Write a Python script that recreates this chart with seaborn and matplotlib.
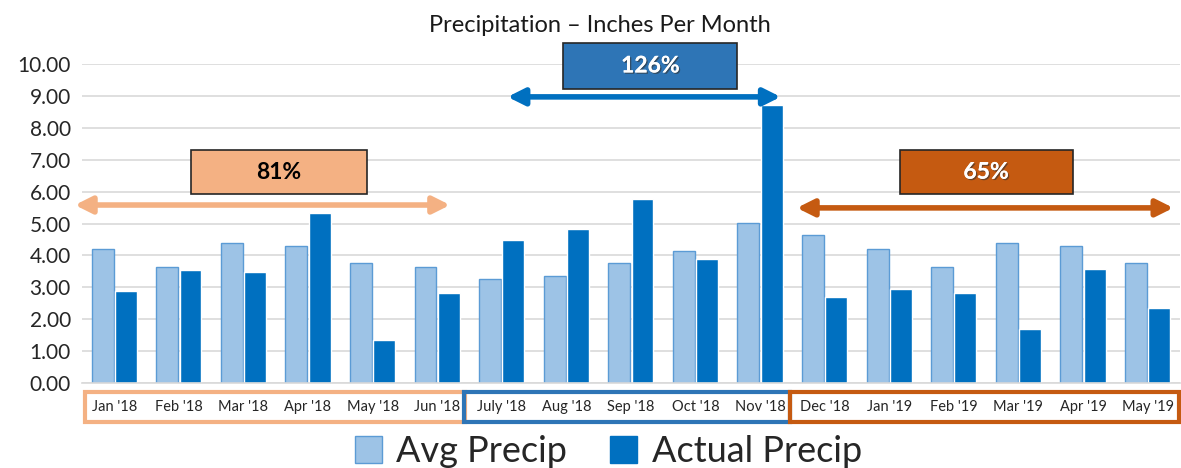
import pandas as pd
import numpy as np
import matplotlib.pyplot as plt
import seaborn as sns
from matplotlib.patches import Rectangle, FancyArrowPatch, Patch
import matplotlib.patheffects as pe

months = ["Jan '18", "Feb '18", "Mar '18", "Apr '18", "May '18", "Jun '18",
          "July '18", "Aug '18", "Sep '18", "Oct '18", "Nov '18",
          "Dec '18", "Jan '19", "Feb '19", "Mar '19", "Apr '19", "May '19"]
avg_precip = [4.19, 3.65, 4.40, 4.29, 3.75, 3.65, 3.25, 3.35, 3.75, 4.15, 5.02,
              4.65, 4.19, 3.65, 4.40, 4.29, 3.75]
actual_precip = [2.87, 3.55, 3.47, 5.33, 1.35, 2.83, 4.48, 4.82, 5.78, 3.88, 8.70,
                 2.71, 2.94, 2.83, 1.68, 3.58, 2.35]
series = ["Avg Precip", "Actual Precip"]

df = pd.DataFrame({
    'month': months * 2,
    'series': [series[0]] * len(months) + [series[1]] * len(months),
    'value': avg_precip + actual_precip,
})

sns.set_style('white')
plt.rcParams['font.family'] = ['Lato', 'DejaVu Sans']

fig = plt.figure(figsize=(11.81, 4.68), dpi=100)
ax = fig.add_axes([0.0694, 0.1816, 0.9296, 0.6816])

palette = {series[0]: '#9DC3E6', series[1]: '#0070C0'}
sns.barplot(data=df, x='month', y='value', hue='series', order=months,
            hue_order=series, palette=palette, width=0.72, gap=0.06,
            saturation=1, ax=ax, legend=False)
for bar in ax.patches[:len(months)]:
    bar.set_edgecolor('#5B9BD5')
    bar.set_linewidth(1.0)

ax.set_ylim(0, 10)
ax.set_xlim(-0.5, len(months) - 0.5)
ax.set_yticks(np.arange(0, 11, 1))
ax.set_yticklabels([f'{v:.2f}' for v in np.arange(0, 11, 1)], fontsize=15, color='#262626')
ax.set_xticks(range(len(months)))
ax.set_xticklabels(months, fontsize=10.5, color='#262626')
ax.tick_params(axis='both', length=0)
ax.tick_params(axis='x', pad=12)
ax.tick_params(axis='y', pad=8)
ax.set_xlabel('')
ax.set_ylabel('')
ax.grid(axis='y', color='#D9D9D9', linewidth=1.2)
ax.set_axisbelow(True)
for s in ['top', 'right', 'left']:
    ax.spines[s].set_visible(False)
ax.spines['bottom'].set_color('#D9D9D9')
ax.spines['bottom'].set_linewidth(1.2)

fig.text(0.508, 0.945, 'Precipitation \u2013 Inches Per Month', ha='center', va='center',
         fontsize=17, color='#1a1a1a')

# period boxes around the month labels
periods = [(-0.45, 5.43, '#F4B183'), (5.42, 10.46, '#2E75B6'), (10.46, 16.49, '#C55A11')]
for x0, x1, c in periods:
    ax.add_patch(Rectangle((x0, -1.22), x1 - x0, 0.94, fill=False, edgecolor=c,
                           linewidth=3, clip_on=False, zorder=5))

# callout boxes and arrows
callouts = [
    ('81%', 1.19, 3.91, 5.92, 7.30, '#F4B183', 'black', -0.61, 5.2, 5.58, '#F4B183'),
    ('126%', 6.95, 9.65, 9.22, 10.66, '#2E75B6', 'white', 6.09, 10.32, 8.97, '#0070C0'),
    ('65%', 12.16, 14.84, 5.92, 7.30, '#C55A11', 'white', 10.57, 16.40, 5.49, '#C55A11'),
]
for label, bx0, bx1, by0, by1, fc, tc, ax0, ax1, ay, acol in callouts:
    ax.add_patch(Rectangle((bx0, by0), bx1 - bx0, by1 - by0, facecolor=fc,
                           edgecolor='#262626', linewidth=1.2, clip_on=False, zorder=6))
    t = ax.text((bx0 + bx1) / 2, (by0 + by1) / 2, label, ha='center', va='center',
                fontsize=16.5, fontweight='bold', color=tc, zorder=7, clip_on=False)
    if tc == 'white':
        t.set_path_effects([pe.withSimplePatchShadow(offset=(1, -1), shadow_rgbFace='#333333', alpha=0.6),
                            pe.Normal()])
    arr = FancyArrowPatch((ax0, ay), (ax1, ay), arrowstyle='<|-|>,head_length=10,head_width=5',
                          color=acol, linewidth=4, mutation_scale=1, clip_on=False, zorder=6,
                          shrinkA=0, shrinkB=0)
    ax.add_patch(arr)

# legend
handles = [Patch(facecolor='#9DC3E6', edgecolor='#5B9BD5', label=series[0]),
           Patch(facecolor='#0070C0', edgecolor='#0070C0', label=series[1])]
fig.legend(handles=handles, loc='center', bbox_to_anchor=(0.515, 0.035), ncol=2,
           frameon=False, fontsize=26, handlelength=0.75, handleheight=0.75,
           handletextpad=0.4, columnspacing=1.2, borderpad=0)

fig.savefig('out.png', dpi=100, facecolor='white')
plt.close(fig)
